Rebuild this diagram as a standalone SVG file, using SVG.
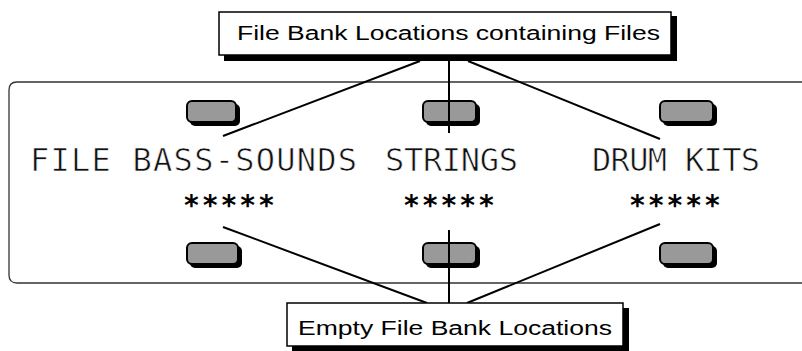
<svg xmlns="http://www.w3.org/2000/svg" width="802" height="351" viewBox="0 0 802 351">
<defs>
<style>
.panel{fill:#fff;stroke:#333;stroke-width:1.3}
.btn{fill:#999;stroke:#000;stroke-width:2}
.btnsh{fill:#000}
.lcd{font-family:"DejaVu Sans Mono","Liberation Mono",monospace;font-size:32px;fill:#111;stroke:#fff;stroke-width:0.7}
.star{font-family:"DejaVu Sans Mono","Liberation Mono",monospace;font-size:28px;font-weight:bold;fill:#000}
.lbl{fill:#fff;stroke:#000;stroke-width:1.5}
.sh{fill:#000}
.lbltxt{font-family:"Liberation Sans",Arial,sans-serif;font-size:20px;fill:#000}
.conn{stroke:#000;stroke-width:2;fill:none}
</style>
</defs>
<rect width="802" height="351" fill="#fff"/>
<g id="panel">
<path class="panel" d="M810,82 H17 Q9,82 9,90 V275 Q9,283 17,283 H810"/>
</g>
<g id="buttons">
<g id="btn-top-1"><rect class="btnsh" x="190" y="104" width="50" height="22" rx="5"/><rect class="btn" x="187" y="101" width="49" height="21" rx="5"/></g>
<g id="btn-top-2"><rect class="btnsh" x="426" y="104" width="54" height="22" rx="5"/><rect class="btn" x="423" y="101" width="53" height="21" rx="5"/></g>
<g id="btn-top-3"><rect class="btnsh" x="663" y="104" width="54" height="22" rx="5"/><rect class="btn" x="660" y="101" width="53" height="21" rx="5"/></g>
<g id="btn-bot-1"><rect class="btnsh" x="190" y="246" width="52" height="22" rx="5"/><rect class="btn" x="187" y="243" width="51" height="21" rx="5"/></g>
<g id="btn-bot-2"><rect class="btnsh" x="426" y="246" width="54" height="22" rx="5"/><rect class="btn" x="423" y="243" width="53" height="21" rx="5"/></g>
<g id="btn-bot-3"><rect class="btnsh" x="663" y="246" width="54" height="22" rx="5"/><rect class="btn" x="660" y="243" width="53" height="21" rx="5"/></g>
</g>
<g id="lcd-text">
<text class="lcd" x="30" y="171" textLength="327" lengthAdjust="spacing">FILE BASS-SOUNDS</text>
<text class="lcd" x="385" y="171" textLength="133" lengthAdjust="spacing">STRINGS</text>
<text class="lcd" x="592" y="171" textLength="168" lengthAdjust="spacing">DRUM KITS</text>
<text class="star" x="183" y="215" letter-spacing="1.9">*****</text>
<text class="star" x="403" y="215" letter-spacing="1.9">*****</text>
<text class="star" x="629" y="215" letter-spacing="1.9">*****</text>
</g>
<g id="connectors">
<line class="conn" x1="420" y1="61" x2="223" y2="136"/>
<line class="conn" x1="449" y1="61" x2="449" y2="133"/>
<line class="conn" x1="468" y1="61" x2="660" y2="139"/>
<line class="conn" x1="223" y1="227" x2="427" y2="303"/>
<line class="conn" x1="449" y1="230" x2="449" y2="303"/>
<line class="conn" x1="660" y1="224" x2="467" y2="303"/>
</g>
<g id="label-top">
<rect class="sh" x="224" y="16" width="453" height="45"/>
<rect class="lbl" x="219" y="12" width="452" height="43"/>
<text class="lbltxt" x="237" y="40" textLength="423" lengthAdjust="spacingAndGlyphs">File Bank Locations containing Files</text>
</g>
<g id="label-bottom">
<rect class="sh" x="292" y="308" width="337" height="43"/>
<rect class="lbl" x="287" y="303" width="336" height="43"/>
<text class="lbltxt" x="298" y="335" textLength="314" lengthAdjust="spacingAndGlyphs">Empty File Bank Locations</text>
</g>
</svg>
